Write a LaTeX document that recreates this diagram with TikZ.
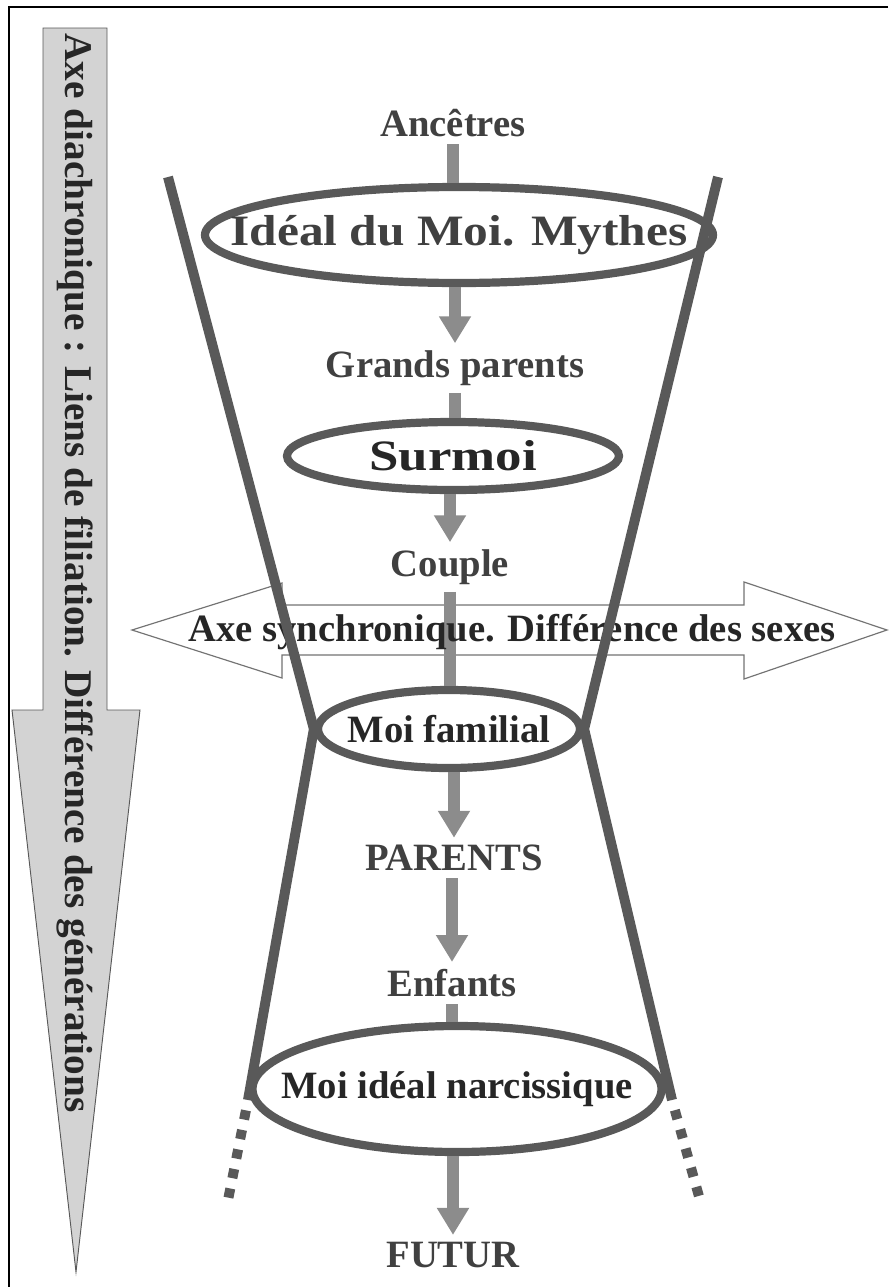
\documentclass[tikz,border=0pt]{standalone}
\usepackage{fontspec}
\setmainfont{Liberation Serif}
\usetikzlibrary{arrows.meta,shapes.geometric}

\definecolor{conegray}{HTML}{595959}
\definecolor{flowgray}{HTML}{8C8C8C}
\definecolor{labelgray}{HTML}{404040}
\definecolor{axisfill}{HTML}{D3D3D3}

\begin{document}
\begin{tikzpicture}[x=0.03cm, y=-0.03cm,
  lbl/.style = {font=\fontsize{33}{36}\selectfont\bfseries, text=labelgray, inner sep=6pt},
  ring/.style = {draw=conegray, line width=7pt, ellipse, inner sep=0pt},
  ringtext/.style = {font=\fontsize{33}{36}\selectfont\bfseries, text=black!85},
  cone/.style = {draw=conegray, line width=8.5pt},
  flow/.style = {draw=flowgray, line width=10pt},
  flowarrow/.style = {flow, -{Triangle[width=26pt,length=23pt]}}]

\useasboundingbox (0,0) rectangle (888,1287);

% frame
\draw[line width=1.5pt] (888,7) -- (9,7) -- (9,1287);

% diachronic axis (big arrow down)
\draw[draw=black!65, fill=axisfill, line width=0.8pt]
  (43,28) -- (107,28) -- (107,710) -- (140,710) -- (76,1272) -- (12,710) -- (43,710) -- cycle;
\node[font=\fontsize{33.5}{36}\selectfont\bfseries, text=black!85, rotate=-90] (diachro) at (75,573)
  {Axe diachronique : Liens de filiation. Différence des générations};

% synchronic axis (double arrow)
\draw[draw=black!55, fill=white, line width=1pt]
  (132,630) -- (282,583) -- (282,605) -- (744,605) -- (744,582) -- (887,630)
  -- (744,679) -- (744,655) -- (282,655) -- (282,678) -- cycle;

% generations
\node[lbl] (anc) at (453,123) {Ancêtres};
\node[ring, minimum width=15.24cm, minimum height=2.88cm,
  label={[ringtext, text=black!75, font=\fontsize{37}{40}\selectfont\bfseries]center:\scalebox{1.14}[1]{Idéal du Moi. Mythes}}] (ideal) at (459,235) {};
\node[lbl] (gp) at (455,368) {Grands parents};
\node[ring, minimum width=9.96cm, minimum height=2.04cm,
  label={[ringtext, font=\fontsize{37}{40}\selectfont\bfseries]center:\scalebox{1.22}[1]{Surmoi}}] (surmoi) at (453,456) {};
\node[lbl] (couple) at (450,567) {Couple};
\node[ring, minimum width=7.86cm, minimum height=2.34cm,
  label={[ringtext]center:Moi familial}] (moifam) at (449,729) {};
\node[lbl] (parents) at (454,858) {PARENTS};
\node[lbl] (enfants) at (452,983) {Enfants};
\node[ring, minimum width=12.27cm, minimum height=3.78cm,
  label={[ringtext]center:Moi idéal narcissique}] (narc) at (457,1089) {};
\node[lbl] (futur) at (453,1255) {FUTUR};

% vertical flow
\draw[flow] (anc) -- (anc |- ideal.north);
\draw[flowarrow] (gp |- ideal.south) -- (gp);
\draw[flow] (gp) -- (gp |- surmoi.north);
\draw[flowarrow] (couple |- surmoi.south) -- (couple);
\draw[flow] (couple) -- (couple |- moifam.north);
\draw[flowarrow] (parents |- moifam.south) -- (parents);
\draw[flowarrow] (enfants |- parents.south) -- (enfants);
\draw[flow] (enfants) -- (enfants |- narc.north);
\draw[flowarrow] (futur |- narc.south) -- (futur);

\node[font=\fontsize{33}{36}\selectfont\bfseries, text=black!85] (synchro) at (512,632)
  {Axe synchronique. Différence des sexes};

% cone
\coordinate (tl) at (168,177);
\coordinate (tr) at (718,177);
\coordinate (bl) at (248,1100);
\coordinate (br) at (672,1100);
\coordinate (dl) at (228,1200);
\coordinate (dr) at (700,1200);
\draw[cone] (tl) -- (moifam.west) -- (bl);
\draw[cone] (tr) -- (moifam.east) -- (br);
\draw[cone, dash pattern=on 8pt off 9pt, dash phase=8pt] (bl) -- (dl);
\draw[cone, dash pattern=on 8pt off 9pt, dash phase=8pt] (br) -- (dr);

\end{tikzpicture}
\end{document}
